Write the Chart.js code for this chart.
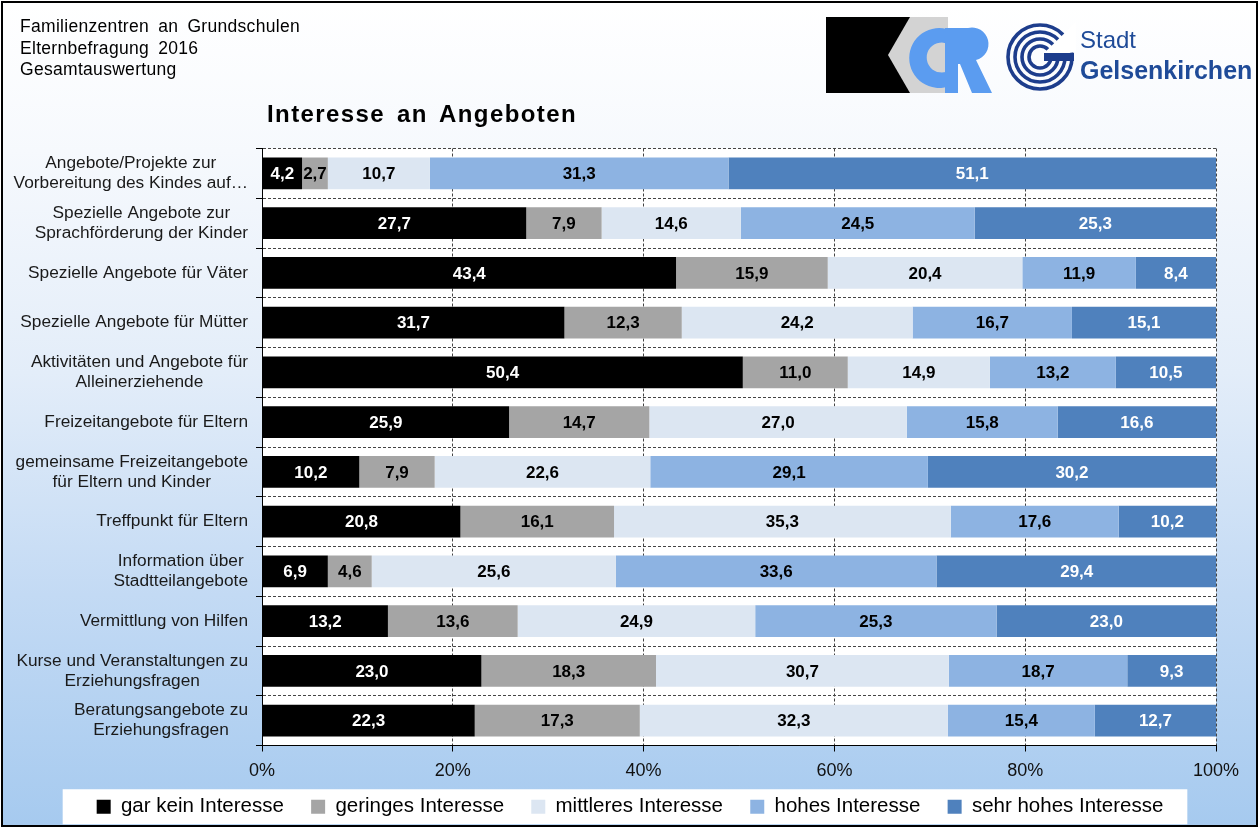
<!DOCTYPE html>
<html>
<head>
<meta charset="utf-8">
<script src="https://cdn.jsdelivr.net/npm/chart.js@4"></script>
<style>
  html, body { margin: 0; padding: 0; }
  body { width: 1260px; height: 828px; position: relative; overflow: hidden; background: #fff; font-family: "Liberation Sans", Arial, sans-serif; }
  #frame {
    position: absolute; left: 1px; top: 1px; width: 1253px; height: 822px;
    border: 2px solid #000;
    background: linear-gradient(to bottom, #ffffff 0%, #f6f9fd 18%, #e3edf9 45%, #c3daf4 72%, #a6caef 100%);
  }
  #chart { position: absolute; left: 0; top: 0; }
  #head { position: absolute; left: 20px; top: 16px; font-size: 17.5px; line-height: 21.7px; color: #000; letter-spacing: 0.3px; word-spacing: 4px; }
  #title { position: absolute; left: 267px; top: 100px; font-size: 24px; font-weight: bold; color: #000; letter-spacing: 1.4px; word-spacing: 4px; }
  #logos { position: absolute; left: 820px; top: 10px; }
  #stadt { position: absolute; left: 1080px; top: 25px; color: #1f4b98; font-size: 24px; line-height: 30px; }
  #stadt b { font-size: 25px; }
</style>
</head>
<body>
<div id="frame"></div>
<canvas id="chart" width="1260" height="828"></canvas>
<div id="head">Familienzentren an Grundschulen<br>Elternbefragung 2016<br>Gesamtauswertung</div>
<div id="title">Interesse an Angeboten</div>
<svg id="logos" width="260" height="90" viewBox="820 10 260 90">
  <!-- KCR -->
  <rect x="826" y="17" width="84" height="76" fill="#000"/>
  <polygon points="888,55 910,17 948,17 948,93 910,93" fill="#d3d3d3"/>
  <path d="M950,30 A30,30 0 1 0 950,86 L950,70 A15,15 0 1 1 950,45 Z" fill="#5b9cf0"/>
  <path d="M945,28 L968,28 A16,16 0 0 1 976,60 L992,93 L972,93 L960,64 L958,64 L958,93 L945,93 Z" fill="#5b9cf0"/>
  <!-- Gelsenkirchen -->
  <g fill="none" stroke="#1d3d8c" stroke-width="3.6">
    <circle cx="1040" cy="57" r="32"/>
    <circle cx="1040" cy="57" r="25"/>
    <circle cx="1040" cy="57" r="18"/>
    <circle cx="1040" cy="57" r="11"/>
  </g>
  <polygon points="1040,57 1076,22 1076,52" fill="#fff"/>
  <rect x="1044" y="53" width="30" height="8" fill="#1d3d8c"/>
</svg>
<div id="stadt">Stadt<br><b>Gelsenkirchen</b></div>
<script>
const categories = [
  ['Angebote/Projekte zur', 'Vorbereitung des Kindes auf…'],
  ['Spezielle Angebote zur', 'Sprachförderung der Kinder'],
  ['Spezielle Angebote für Väter'],
  ['Spezielle Angebote für Mütter'],
  ['Aktivitäten und Angebote für', 'Alleinerziehende'],
  ['Freizeitangebote für Eltern'],
  ['gemeinsame Freizeitangebote', 'für Eltern und Kinder'],
  ['Treffpunkt für Eltern'],
  ['Information über', 'Stadtteilangebote'],
  ['Vermittlung von Hilfen'],
  ['Kurse und Veranstaltungen zu', 'Erziehungsfragen'],
  ['Beratungsangebote zu', 'Erziehungsfragen'],
];

const seriesNames = ['gar kein Interesse', 'geringes Interesse', 'mittleres Interesse', 'hohes Interesse', 'sehr hohes Interesse'];

const garKein   = [4.2, 27.7, 43.4, 31.7, 50.4, 25.9, 10.2, 20.8, 6.9, 13.2, 23.0, 22.3];
const geringes  = [2.7, 7.9, 15.9, 12.3, 11.0, 14.7, 7.9, 16.1, 4.6, 13.6, 18.3, 17.3];
const mittleres = [10.7, 14.6, 20.4, 24.2, 14.9, 27.0, 22.6, 35.3, 25.6, 24.9, 30.7, 32.3];
const hohes     = [31.3, 24.5, 11.9, 16.7, 13.2, 15.8, 29.1, 17.6, 33.6, 25.3, 18.7, 15.4];
const sehrHohes = [51.1, 25.3, 8.4, 15.1, 10.5, 16.6, 30.2, 10.2, 29.4, 23.0, 9.3, 12.7];

const xTicks = [0, 20, 40, 60, 80, 100];

const barColors = ['#000000', '#a5a5a5', '#dce6f2', '#8db3e2', '#4f81bd'];
const valueColors = ['#ffffff', '#000000', '#000000', '#000000', '#ffffff'];

const fontFamily = '"Liberation Sans", Arial, sans-serif';

// weisser Hintergrund fuer Plotbereich und Legende
const backgroundPlugin = {
    id: 'backgrounds',
    beforeDraw(chart) {
        const ctx = chart.ctx;
        const a = chart.chartArea;
        ctx.save();
        ctx.fillStyle = '#ffffff';
        ctx.fillRect(a.left, a.top, a.right - a.left, a.bottom - a.top);

        // Legende mittig auf der ganzen Breite, nicht nur im Plotbereich
        const lg = chart.legend;
        const shift = chart.width / 2 - (lg.left + lg.right) / 2;
        lg.left += shift;
        lg.right += shift;

        const boxes = lg.legendHitBoxes;
        if (boxes && boxes.length) {
            const left = Math.min(...boxes.map(b => b.left)) + shift - 34;
            const right = Math.max(...boxes.map(b => b.left + b.width)) + shift + 24;
            const mid = boxes[0].top + boxes[0].height / 2;
            ctx.fillRect(left, mid - 17.5, right - left, 35);
        }
        ctx.restore();
    }
};

// Kategorien: Block rechtsbuendig, Zeilen zentriert (wie Excel)
const categoryLabelPlugin = {
    id: 'categoryLabels',
    afterDraw(chart) {
        const scale = chart.scales.y;
        const ctx = chart.ctx;
        ctx.save();
        ctx.font = '17.3px ' + fontFamily;
        ctx.fillStyle = '#1a1a1a';
        ctx.textAlign = 'center';
        ctx.textBaseline = 'middle';
        const lineH = 20;
        const rightEdge = scale.right - 14;
        scale.ticks.forEach((t, i) => {
            const lines = categories[i];
            const w = Math.max(...lines.map(l => ctx.measureText(l).width));
            const cx = rightEdge - w / 2;
            const y0 = scale.getPixelForTick(i) - (lines.length - 1) * lineH / 2;
            lines.forEach((l, k) => ctx.fillText(l, cx, y0 + k * lineH));
        });
        ctx.restore();
    }
};

// Werte in den Balken
const valueLabelPlugin = {
    id: 'valueLabels',
    afterDatasetsDraw(chart) {
        const ctx = chart.ctx;
        ctx.save();
        ctx.font = 'bold 17px ' + fontFamily;
        ctx.textAlign = 'center';
        ctx.textBaseline = 'middle';
        chart.data.datasets.forEach((ds, di) => {
            const meta = chart.getDatasetMeta(di);
            ctx.fillStyle = valueColors[di];
            meta.data.forEach((bar, i) => {
                const v = ds.data[i];
                ctx.fillText(v.toFixed(1).replace('.', ','), (bar.x + bar.base) / 2, bar.y + 1);
            });
        });
        ctx.restore();
    }
};

const seriesData = [garKein, geringes, mittleres, hohes, sehrHohes];

const chartData = {
    labels: categories.map(c => c.join(' ')),
    datasets: seriesData.map((d, i) => ({
        label: seriesNames[i],
        data: d,
        backgroundColor: barColors[i],
        borderWidth: 0,
        barPercentage: 0.64,
        categoryPercentage: 1.0,
    })),
};

const chartConfig = {
    type: 'bar',
    data: chartData,
    options: {
        indexAxis: 'y',
        responsive: false,
        animation: false,
        devicePixelRatio: 1,
        layout: {
            padding: { left: 17, right: 44, top: 148.5, bottom: 1 }
        },
        plugins: {
            legend: {
                position: 'bottom',
                labels: {
                    color: '#000',
                    boxWidth: 14,
                    boxHeight: 14,
                    padding: 17,
                    font: { family: fontFamily, size: 20.5, lineHeight: 1 },
                    // etwas mehr Abstand zwischen den Eintraegen
                    generateLabels: (chart) => {
                        const items = Chart.defaults.plugins.legend.labels.generateLabels(chart);
                        items.forEach((it, i) => { if (i < items.length - 1) it.text += '\u2002'; });
                        return items;
                    },
                },
            },
            title: { display: false },
            tooltip: { enabled: false },
        },
        scales: {
            x: {
                stacked: true,
                min: 0,
                max: 100,
                afterBuildTicks: (scale) => {
                    scale.ticks = xTicks.map(v => ({ value: v }));
                },
                afterFit: (scale) => { scale.height = 34; },
                ticks: {
                    color: '#111',
                    padding: 9,
                    font: { family: fontFamily, size: 18 },
                    callback: (v) => v + '%',
                },
                grid: {
                    color: '#444',
                    lineWidth: 1,
                    tickLength: 6,
                    tickColor: '#000',
                },
                border: { display: true, color: '#000', width: 1, dash: [3, 2] },
            },
            y: {
                stacked: true,
                afterFit: (scale) => { scale.width = 245; },
                ticks: {
                    color: 'rgba(0,0,0,0)',
                    font: { family: fontFamily, size: 17 },
                },
                grid: {
                    offset: true,
                    color: '#444',
                    lineWidth: 1,
                    tickLength: 6,
                    tickColor: '#000',
                },
                border: { display: true, color: '#000', width: 1, dash: [3, 2] },
            }
        }
    },
    plugins: [backgroundPlugin, valueLabelPlugin, categoryLabelPlugin],
};

const chartInstance = new Chart(document.getElementById('chart').getContext('2d'), chartConfig);
</script>
</body>
</html>
